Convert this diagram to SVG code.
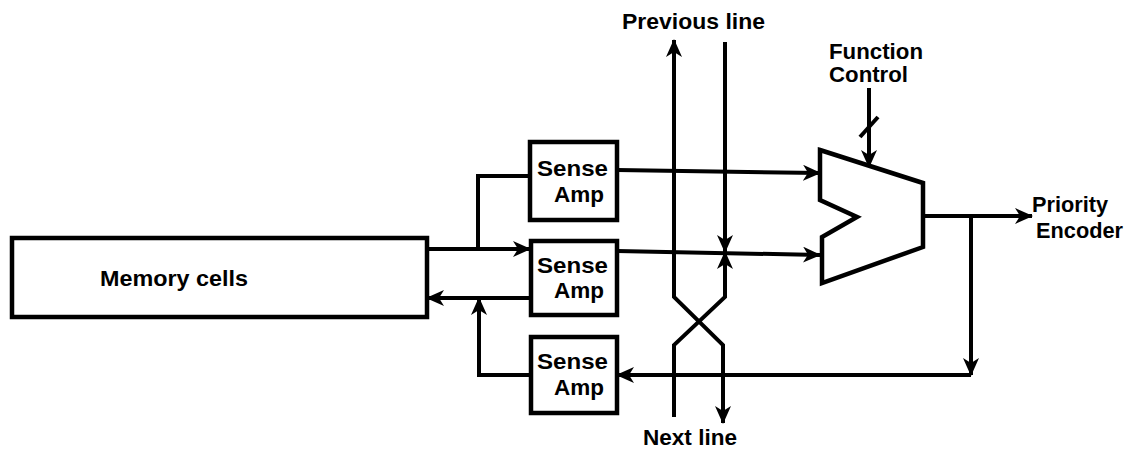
<svg xmlns="http://www.w3.org/2000/svg" width="1127" height="449" viewBox="0 0 1127 449">
<style>
.ln{fill:none;stroke:#000;stroke-width:4;stroke-linejoin:miter}
.box{fill:#fff;stroke:#000;stroke-width:4.5}
.t{font-family:"Liberation Sans",Arial,sans-serif;font-weight:bold;font-size:22px;fill:#000}
.a{marker-end:url(#ah)}
</style>
<defs>
<marker id="ah" markerUnits="userSpaceOnUse" markerWidth="18" markerHeight="16" refX="17" refY="8" orient="auto-start-reverse" viewBox="0 0 18 16">
<path d="M0,0 L18,8 L0,16 L5,8 z" fill="#000"/>
</marker>
</defs>
<rect width="1127" height="449" fill="#fff"/>
<g id="connectors">
<path class="ln a" d="M427,249 H530"/>
<path class="ln" d="M478,249 V176 H530"/>
<path class="ln a" d="M530,298 H427"/>
<path class="ln a" d="M531,375 H479 V298"/>
<path class="ln a" d="M617,170 L820,173"/>
<path class="ln a" d="M617,251 L820,255"/>
<path class="ln a" d="M923,216 H1032"/>
<path class="ln a" d="M971,216 V375"/>
<path class="ln a" d="M971,375 H617"/>
<path class="ln a" d="M869,88 V167"/>
<path class="ln" d="M860,137 L878,117"/>
<path class="ln" d="M674,40 V297 L723,345 V423" style="marker-start:url(#ah);marker-end:url(#ah)"/>
<path class="ln a" d="M725,42 V252"/>
<path class="ln a" d="M674,417 V345 L725,297 V252"/>
</g>
<g id="memory">
<rect class="box" x="12" y="238" width="415" height="79" stroke-width="3.5"/>
<text class="t" x="100" y="286" textLength="148" lengthAdjust="spacingAndGlyphs">Memory cells</text>
</g>
<g id="sa1">
<rect class="box" x="530" y="142" width="87" height="78"/>
<text class="t" x="537" y="176" textLength="71" lengthAdjust="spacingAndGlyphs">Sense</text>
<text class="t" x="554" y="202" textLength="50" lengthAdjust="spacingAndGlyphs">Amp</text>
</g>
<g id="sa2">
<rect class="box" x="531" y="241" width="86" height="74"/>
<text class="t" x="537" y="273" textLength="71" lengthAdjust="spacingAndGlyphs">Sense</text>
<text class="t" x="554" y="298" textLength="50" lengthAdjust="spacingAndGlyphs">Amp</text>
</g>
<g id="sa3">
<rect class="box" x="531" y="337" width="86" height="76"/>
<text class="t" x="537" y="369" textLength="71" lengthAdjust="spacingAndGlyphs">Sense</text>
<text class="t" x="554" y="395" textLength="50" lengthAdjust="spacingAndGlyphs">Amp</text>
</g>
<g id="mux">
<polygon class="box" points="820,150 923,183 923,247 822,283 822,237 857,217 820,200"/>
</g>
<g id="labels">
<text class="t" x="622" y="29" textLength="143" lengthAdjust="spacingAndGlyphs">Previous line</text>
<text class="t" x="643" y="445" textLength="94" lengthAdjust="spacingAndGlyphs">Next line</text>
<text class="t" x="829" y="59" textLength="94" lengthAdjust="spacingAndGlyphs">Function</text>
<text class="t" x="829" y="82" textLength="79" lengthAdjust="spacingAndGlyphs">Control</text>
<text class="t" x="1032" y="212" textLength="76" lengthAdjust="spacingAndGlyphs">Priority</text>
<text class="t" x="1036" y="238" textLength="87" lengthAdjust="spacingAndGlyphs">Encoder</text>
</g>
</svg>
